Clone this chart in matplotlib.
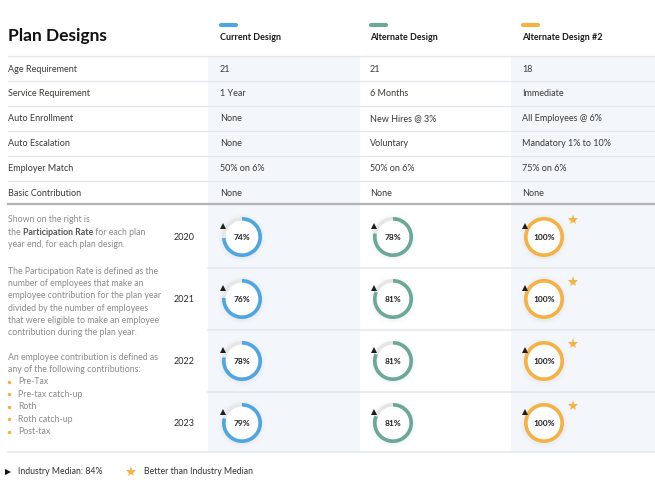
import matplotlib
matplotlib.use("Agg")
import matplotlib.pyplot as plt
from matplotlib.patches import Wedge, Circle, Rectangle

plt.rcParams['font.family'] = ['Lato', 'DejaVu Sans']

# ---------------- data ----------------
designs = ["Current Design", "Alternate Design", "Alternate Design #2"]
design_colors = ["#4da6e2", "#6aa897", "#f5b142"]
row_labels = ["Age Requirement", "Service Requirement", "Auto Enrollment",
              "Auto Escalation", "Employer Match", "Basic Contribution"]
current_vals = ["21", "1 Year", "None", "None", "50% on 6%", "None"]
alternate_vals = ["21", "6 Months", "New Hires @ 3%", "Voluntary", "50% on 6%", "None"]
alternate2_vals = ["18", "Immediate", "All Employees @ 6%", "Mandatory 1% to 10%", "75% on 6%", "None"]
years = ["2020", "2021", "2022", "2023"]
rate_current = [74, 76, 78, 79]
rate_alternate = [78, 81, 81, 81]
rate_alternate2 = [100, 100, 100, 100]
industry_median = 84

para1 = ["Shown on the right is", None, "year end, for each plan design."]
para2 = ["The Participation Rate is defined as the",
         "number of employees that make an",
         "employee contribution for the plan year",
         "divided by the number of employees",
         "that were eligible to make an employee",
         "contribution during the plan year."]
para3 = ["An employee contribution is defined as",
         "any of the following contributions:"]
bullets = ["Pre-Tax", "Pre-tax catch-up", "Roth", "Roth catch-up", "Post-tax"]

# ---------------- layout ----------------
W, H = 655, 500
fig = plt.figure(figsize=(W / 100, H / 100), dpi=100)
ax = fig.add_axes([0, 0, 1, 1])
ax.set_xlim(0, W)
ax.set_ylim(H, 0)
ax.axis("off")

col_x = [220, 370, 522]
col_left = [208, 360, 511]
col_right = [360, 511, 655]
shaded = [True, False, True]
top_y, bot_y = 57, 452
for l, r, s in zip(col_left, col_right, shaded):
    if s:
        ax.add_patch(Rectangle((l, top_y), r - l, bot_y - top_y,
                               facecolor="#f3f6fa", edgecolor="none", zorder=0))

text_dark = "#2b2b2b"
text_gray = "#8a8a8a"
line_col = "#e4e7ec"

# Title
ax.text(8, 36, "Plan Designs", fontsize=12.5, fontweight="bold", color="#111111",
        va="center", ha="left")

# Column headers
for x, name, c in zip(col_x, designs, design_colors):
    ax.plot([x + 1, x + 16], [25, 25], color=c, lw=3, solid_capstyle="round", zorder=3)
    ax.text(x, 38, name, fontsize=6.5, fontweight="bold", color="#1a1a1a",
            va="center", ha="left")

# Top table rows
row_y0, row_h = 69, 24.8
sep_ys = [56]
for i, lab in enumerate(row_labels):
    y = row_y0 + i * row_h
    ax.text(8, y, lab, fontsize=6.5, color="#3a3a3a", va="center", ha="left")
    for x, vals in zip(col_x, [current_vals, alternate_vals, alternate2_vals]):
        ax.text(x, y, vals[i], fontsize=6.5, color="#3a3a3a", va="center", ha="left")
    if i < len(row_labels) - 1:
        sep_ys.append(y + row_h / 2)
for y in sep_ys:
    ax.plot([8, W], [y, y], color=line_col, lw=1, zorder=1)
ax.plot([8, W], [204, 204], color="#b4b4b4", lw=1.6, zorder=2)

# Lower section
ring_y = [237, 299, 361, 423]
for y in [267.5, 330, 392]:
    ax.plot([208, W], [y, y], color=line_col, lw=1.2, zorder=1)
ax.plot([8, W], [bot_y, bot_y], color=line_col, lw=1.2, zorder=1)

for y, yr in zip(ring_y, years):
    ax.text(174, y + 1, yr, fontsize=6.5, color=text_dark, va="center", ha="left")

ring_cx = [242, 393, 544]
R, wid = 20, 3.6
import math
for cx, rates, c in zip(ring_cx, [rate_current, rate_alternate, rate_alternate2], design_colors):
    for cy, r in zip(ring_y, rates):
        # soft shadow
        for k, a in zip([4, 2.5, 1], [0.025, 0.035, 0.05]):
            ax.add_patch(Circle((cx, cy + 1), R + k, facecolor="#9fb3c8", alpha=a,
                                edgecolor="none", zorder=2))
        ax.add_patch(Circle((cx, cy), R, facecolor="white", edgecolor="none", zorder=2.5))
        ax.add_patch(Wedge((cx, cy), R, -90, 270, width=wid, facecolor="#e6e6e6",
                           edgecolor="none", zorder=3))
        ax.add_patch(Wedge((cx, cy), R, -90, -90 + 360 * r / 100, width=wid,
                           facecolor=c, edgecolor="none", zorder=4))
        ax.text(cx, cy + 0.5, f"{r}%", fontsize=6, fontweight="bold", color="#222222",
                ha="center", va="center", zorder=5)
        th = math.radians(-90 + 360 * industry_median / 100)
        ax.plot(cx + 22 * math.cos(th), cy + 22 * math.sin(th) + 1, marker="^",
                ms=4, color="#1e1e1e", zorder=6, markeredgewidth=0)
        if r > industry_median:
            ax.plot(cx + 29, cy - 17, marker="*", ms=8, color="#f5b142",
                    markeredgewidth=0, zorder=6)

# Left paragraphs
lh = 12.4
fs_p = 6.3
y = 220
ax.text(8, y, para1[0], fontsize=fs_p, color=text_gray, va="center", ha="left")
y += lh
fig.canvas.draw()
renderer = fig.canvas.get_renderer()
t1 = ax.text(8, y, "the ", fontsize=fs_p, color=text_gray, va="center", ha="left")
bb = t1.get_window_extent(renderer)
x2 = ax.transData.inverted().transform((bb.x1, 0))[0]
t2 = ax.text(x2, y, "Participation Rate", fontsize=fs_p, color="#555555",
             fontweight="bold", va="center", ha="left")
bb2 = t2.get_window_extent(renderer)
x3 = ax.transData.inverted().transform((bb2.x1, 0))[0]
ax.text(x3, y, " for each plan", fontsize=fs_p, color=text_gray, va="center", ha="left")
y += lh
ax.text(8, y, para1[2], fontsize=fs_p, color=text_gray, va="center", ha="left")

y = 271
for ln in para2:
    ax.text(8, y, ln, fontsize=fs_p, color=text_gray, va="center", ha="left")
    y += lh
y = 357
for ln in para3:
    ax.text(8, y, ln, fontsize=fs_p, color=text_gray, va="center", ha="left")
    y += lh
y += 0.2
for ln in bullets:
    ax.plot(9, y, marker="o", ms=2.5, color="#f5b142", markeredgewidth=0)
    ax.text(18, y, ln, fontsize=fs_p, color=text_gray, va="center", ha="left")
    y += lh

# Legend
ax.plot(8, 472, marker=">", ms=4, color="#111111", markeredgewidth=0)
ax.text(18, 472, f"Industry Median: {industry_median}%", fontsize=6.3, color="#333333",
        va="center", ha="left")
ax.plot(131, 471.5, marker="*", ms=8, color="#f5b142", markeredgewidth=0)
ax.text(144, 472, "Better than Industry Median", fontsize=6.3, color="#333333",
        va="center", ha="left")

fig.savefig("out.png", dpi=100)
